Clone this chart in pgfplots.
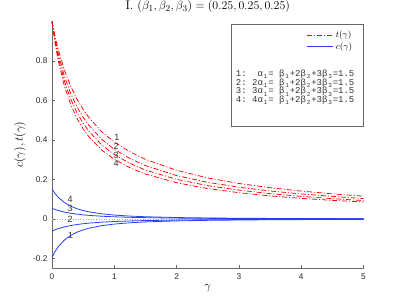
\documentclass[border=0pt]{standalone}
\usepackage{pgfplots}
\pgfplotsset{compat=1.18}
\usepackage{pgfplotstable}
\usepackage{fontspec}
\newfontfamily\sfhelv{Liberation Sans}
\newfontfamily\monof{Liberation Mono}
\definecolor{tred}{rgb}{1,0,0}
\definecolor{cblue}{rgb}{0.15,0.25,0.95}
\definecolor{axgray}{rgb}{0.42,0.42,0.42}
\newcommand\sbx[1]{\makebox[0.6em][c]{\raisebox{-0.45ex}{\fontsize{6}{6}\selectfont #1}}}
\newcommand\spx{\hphantom{0}}
\pgfplotstableread{
g t1 t2 t3 t4 c1 c2 c3 c4
0 1 1 1 1 -0.194 -0.061 0.054 0.152
0.05 0.9235 0.9111 0.9005 0.8895 -0.1639 -0.0543 0.0481 0.1284
0.1 0.8583 0.8374 0.8198 0.8019 -0.1403 -0.0486 0.0430 0.1099
0.2 0.7533 0.7221 0.6968 0.6717 -0.1061 -0.0397 0.0351 0.0832
0.3 0.6721 0.6358 0.6072 0.5794 -0.0831 -0.0330 0.0292 0.0651
0.4 0.6075 0.5687 0.5388 0.5103 -0.0668 -0.0278 0.0247 0.0523
0.5 0.5547 0.5151 0.4849 0.4565 -0.0549 -0.0238 0.0211 0.0430
0.6 0.5107 0.4711 0.4412 0.4134 -0.0459 -0.0206 0.0183 0.0360
0.8 0.4416 0.4031 0.3747 0.3487 -0.0335 -0.0159 0.0141 0.0262
1.0 0.3896 0.3530 0.3264 0.3022 -0.0255 -0.0126 0.0112 0.0200
1.25 0.3403 0.3062 0.2816 0.2596 -0.0190 -0.0098 0.0086 0.0149
1.5 0.3020 0.2706 0.2480 0.2279 -0.0146 -0.0078 0.0069 0.0115
2 0.2465 0.2200 0.2008 0.1838 -0.0095 -0.0053 0.0047 0.0074
2.5 0.2080 0.1858 0.1690 0.1542 -0.0067 -0.0038 0.0034 0.0052
3 0.1800 0.1610 0.1462 0.1332 -0.0049 -0.0029 0.0026 0.0039
3.5 0.1585 0.1420 0.1287 0.1170 -0.0038 -0.0023 0.0020 0.0030
4 0.1415 0.1270 0.1145 0.1045 -0.0030 -0.0018 0.0016 0.0024
4.5 0.1275 0.1145 0.1032 0.0945 -0.0024 -0.0015 0.0013 0.0019
5 0.1155 0.1035 0.0935 0.0862 -0.0020 -0.0012 0.0011 0.0016
}\datatab
\pgfplotstableread{
g z
0 0
5 0
}\zerotab
\begin{document}
\begin{tikzpicture}
\path[use as bounding box] (-52bp,-34bp) rectangle (350bp,268bp);
\begin{axis}[
  scale only axis,
  width=311.5bp, height=246.5bp,
  at={(0,0)}, anchor=south west,
  xmin=0, xmax=5, ymin=-0.248, ymax=1.0,
  axis x line*=bottom, axis y line*=left,
  axis line style={axgray, line width=0.6pt, -},
  xtick={0,1,2,3,4,5},
  ytick={-0.2,0,0.2,0.4,0.6,0.8},
  tick align=inside,
  major tick length=3bp,
  tick style={axgray, line width=0.5pt},
  /pgf/number format/assume math mode=true,
  ticklabel style={font=\sfhelv\fontsize{8.3}{9}\selectfont, text=black!85},
  xticklabel style={yshift=-2bp},
  yticklabel style={xshift=-1bp},
  xlabel={$\gamma$},
  ylabel={$c(\gamma), t(\gamma)$},
  xlabel style={at={(axis description cs:0.5,-0.083)}, anchor=center, font=\fontsize{12.5}{14}\selectfont},
  ylabel style={at={(axis description cs:-0.103,0.5)}, anchor=center, font=\fontsize{12.5}{14}\selectfont},
  title={I. $(\beta_1,\beta_2,\beta_3)=(0.25,0.25,0.25)$},
  title style={at={(axis description cs:0.5,1.036)}, anchor=center, inner sep=0pt, font=\fontsize{12.6}{14}\selectfont},
  legend style={draw=none, fill=none, at={(axis cs:4.87,0.968)}, anchor=north east,
    font=\fontsize{9.5}{11}\selectfont, row sep=-0.5bp, inner sep=1bp},
  legend cell align=left,
  legend image code/.code={\draw[#1] (0bp,0bp) -- (26bp,0bp);},
  clip=false,
]
\addplot[gray!70, dotted, line width=0.6pt, forget plot] table[x=g,y=z] {\zerotab};
\addplot[tred, line width=0.75pt, dash pattern=on 5bp off 2bp on 1bp off 2bp] table[x=g,y=t1] {\datatab};
\addlegendentry{$t(\gamma)$}
\addplot[cblue, line width=0.8pt] table[x=g,y=c1] {\datatab};
\addlegendentry{$c(\gamma)$}
\addplot[tred, line width=0.75pt, dash pattern=on 5bp off 2bp on 1bp off 2bp, forget plot] table[x=g,y=t2] {\datatab};
\addplot[tred, line width=0.75pt, dash pattern=on 5bp off 2bp on 1bp off 2bp, forget plot] table[x=g,y=t3] {\datatab};
\addplot[tred, line width=0.75pt, dash pattern=on 5bp off 2bp on 1bp off 2bp, forget plot] table[x=g,y=t4] {\datatab};
\addplot[cblue, line width=0.8pt, forget plot] table[x=g,y=c2] {\datatab};
\addplot[cblue, line width=0.8pt, forget plot] table[x=g,y=c3] {\datatab};
\addplot[cblue, line width=0.8pt, forget plot] table[x=g,y=c4] {\datatab};
\draw[black!60, line width=0.7pt] (axis cs:2.873,0.471) rectangle (axis cs:5,0.987);
\begin{scope}[every node/.style={font=\sfhelv\fontsize{9}{9}\selectfont, inner sep=0pt, text=black!80}]
\node at (axis cs:1.04,0.414) {1};
\node at (axis cs:1.03,0.366) {2};
\node at (axis cs:1.03,0.324) {3};
\node at (axis cs:1.03,0.282) {4};
\node at (axis cs:0.29,0.101) {4};
\node at (axis cs:0.29,0.054) {3};
\node at (axis cs:0.29,-0.004) {2};
\node at (axis cs:0.30,-0.081) {1};
\end{scope}
\begin{scope}[every node/.style={font=\monof\fontsize{9}{9}\selectfont, inner sep=0pt, anchor=base west, text=black!80}]
\node at (axis cs:2.95,0.720) {1:\spx\spx α\sbx{1}=\spx β\sbx{1}+2β\sbx{2}+3β\sbx{3}=1.5};
\node at (axis cs:2.95,0.677) {2:\spx2α\sbx{1}=\spx β\sbx{1}+2β\sbx{2}+3β\sbx{3}=1.5};
\node at (axis cs:2.95,0.633) {3:\spx3α\sbx{1}=\spx β\sbx{1}+2β\sbx{2}+3β\sbx{3}=1.5};
\node at (axis cs:2.95,0.591) {4:\spx4α\sbx{1}=\spx β\sbx{1}+2β\sbx{2}+3β\sbx{3}=1.5};
\end{scope}
\end{axis}
\end{tikzpicture}
\end{document}
